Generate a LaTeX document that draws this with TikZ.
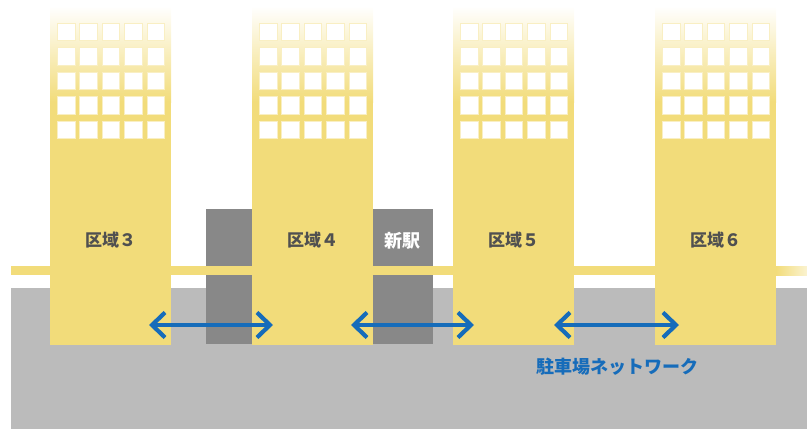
\documentclass[tikz,border=0pt]{standalone}
\usepackage{fontspec}
\newfontfamily\jp{Noto Sans CJK JP}
\usetikzlibrary{arrows.meta}
\definecolor{bldg}{RGB}{242,220,122}
\definecolor{ground}{RGB}{187,187,187}
\definecolor{station}{RGB}{136,136,136}
\definecolor{netblue}{RGB}{22,108,186}
\definecolor{labelgray}{RGB}{80,80,80}
\tikzset{
  lbl/.style={font=\jp\bfseries\fontsize{17}{17}\selectfont, text=labelgray, inner sep=0pt},
  stlbl/.style={font=\jp\bfseries\fontsize{18}{18}\selectfont, text=white, inner sep=0pt},
  netlbl/.style={font=\jp\bfseries\fontsize{18}{18}\selectfont, text=netblue, inner sep=0pt},
  net/.style={draw=netblue, line width=4.2pt,
    {Straight Barb[length=13pt,width=25pt]}-{Straight Barb[length=13pt,width=25pt]}},
  win/.style={fill=white, draw=white!55!bldg, line width=0.6pt}
}
\begin{document}
\begin{tikzpicture}[x=1pt,y=-1pt]
\useasboundingbox (0,0) rectangle (807,429);
% ground
\fill[ground] (11,288) rectangle (807,429);
% station boxes
\fill[station] (206,209) rectangle (252,344);
\fill[station] (373,209) rectangle (433,344);
% rail
\fill[bldg] (11,266) rectangle (777,275);
\shade[left color=bldg, right color=bldg!35!white] (776,266) rectangle (807,275);
% buildings
\foreach \bx/\nm/\t in {50/b3/区域３, 252/b4/区域４, 453/b5/区域５, 655/b6/区域６}{
  \shade[top color=white, bottom color=bldg] (\bx,6) rectangle ++(121,96);
  \fill[bldg] (\bx,101.5) rectangle ++(121,243.5);
  \foreach \i in {0,...,4}{
    \foreach \j in {0,...,4}{
      \filldraw[win] ({\bx+7.3+22.4*\i},{23+24.5*\j}) rectangle ++(17.5,17.5);
    }
  }
  \node[lbl] (\nm) at (\bx+60.5,240.5) {\t};
}
\node[stlbl] (st) at (402.5,240.5) {新駅};
% arrows
\coordinate (a1) at (149,325);
\coordinate (a2) at (273,325);
\coordinate (a3) at (351,325);
\coordinate (a4) at (474,325);
\coordinate (a5) at (554,325);
\coordinate (a6) at (679,325);
\draw[net] (a1) -- (a2);
\draw[net] (a3) -- (a4);
\draw[net] (a5) -- (a6);
\node[netlbl] (nw) at (617,367) {駐車場ネットワーク};
\end{tikzpicture}
\end{document}
